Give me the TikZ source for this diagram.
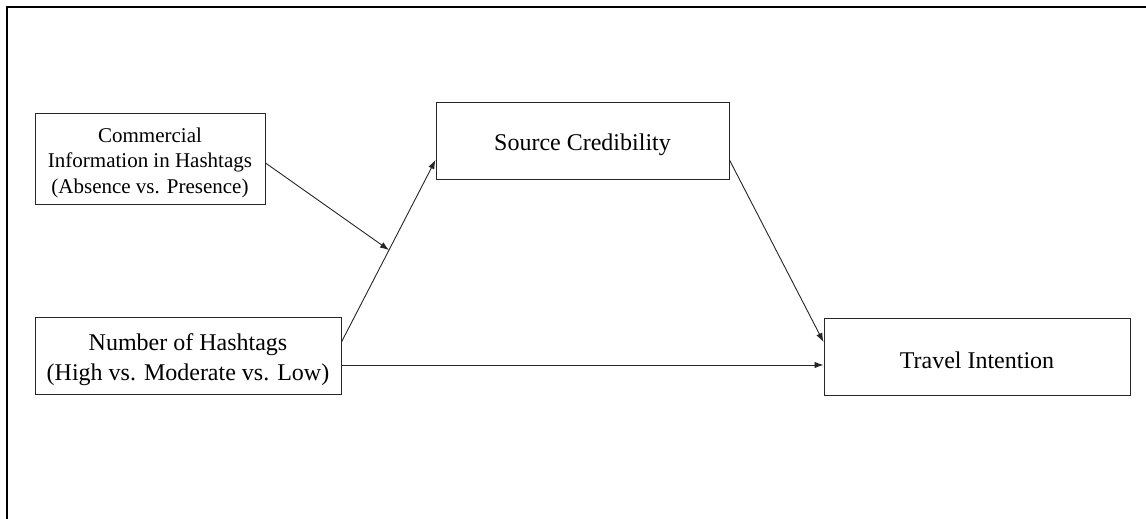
\documentclass[tikz,border=0pt]{standalone}
\usepackage{fontspec}
\setmainfont{Liberation Serif}
\usetikzlibrary{arrows.meta,calc}
\begin{document}
\begin{tikzpicture}[x=1pt,y=-1pt,
  box/.style={draw=black!85,line width=1pt,fill=white,inner sep=0pt},
  txt/.style={inner sep=0pt,align=center,font=\fontsize{24}{29.5}\selectfont},
  smalltxt/.style={txt,font=\fontsize{21}{25.5}\selectfont},
  arr/.style={draw=black!85,line width=0.9pt,-{Latex[length=9pt,width=6.5pt]}},
  frame/.style={draw=black,line width=2.6pt}]
\useasboundingbox (0,0) rectangle (1146,519);
\draw[frame] (7,519) -- (7,7) -- (1146,7);
\node[box,minimum width=230pt,minimum height=91pt] (A) at (150,158.5) {};
\node[box,minimum width=306pt,minimum height=77pt] (B) at (188,355.5) {};
\node[box,minimum width=293pt,minimum height=77pt] (C) at (582.5,140.5) {};
\node[box,minimum width=306pt,minimum height=77pt] (D) at (977,356.5) {};
\node[smalltxt] (At) at ($(A.center)+(0,4)$) {Commercial\\Information in Hashtags\\(Absence vs. Presence)};
\node[txt] (Bt) at ($(B.center)+(0,4)$) {Number of Hashtags\\(High vs. Moderate vs. Low)};
\node[txt] (Ct) at ($(C.center)+(0,4)$) {Source Credibility};
\node[txt] (Dt) at ($(D.center)+(0,4)$) {Travel Intention};
\draw[arr] ($(B.east)+(0,-13.5)$) -- coordinate[pos=0.505] (m) ($(C.west)+(0,19.5)$);
\draw[arr] ($(A.east)+(0,4.5)$) -- (m);
\draw[arr] ($(C.east)+(0,19.5)$) -- ($(D.west)+(0,-14.5)$);
\draw[arr] ($(B.east)+(0,9.5)$) coordinate (bd) -- (bd -| D.west);
\end{tikzpicture}
\end{document}
